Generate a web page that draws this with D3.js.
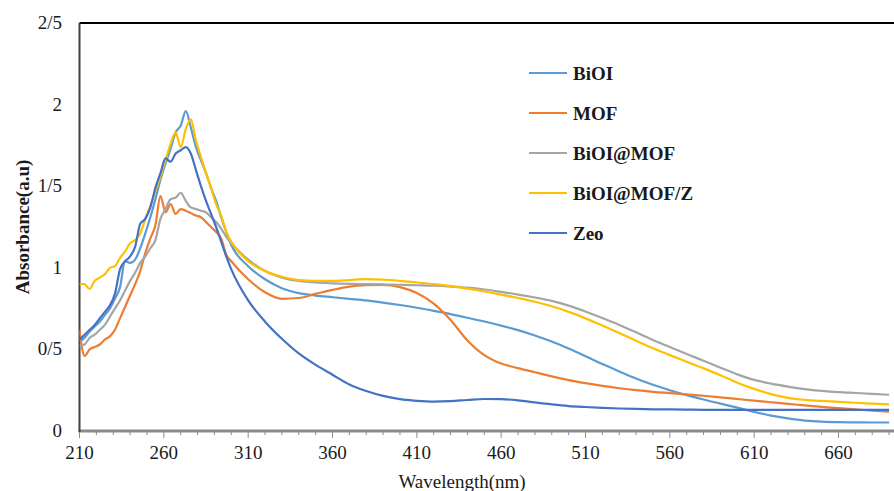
<!DOCTYPE html>
<html>
<head>
<meta charset="utf-8">
<script src="https://cdn.jsdelivr.net/npm/d3@7"></script>
<style>
  body { margin: 0; background: #fff; }
  svg { display: block; font-family: "Liberation Serif", "Times New Roman", serif; }
</style>
</head>
<body>
<svg id="absChart" width="894" height="491"></svg>
<script>
// wavelength grid (nm): fine steps over the noisy peak, then every 10 nm
const wavelengths = [
  210, 213, 216, 219, 222, 225, 228, 231, 234, 237, 240, 243, 246, 249, 252, 255,
  258, 261, 264, 267, 270, 273, 276, 279, 282, 285, 288, 291, 294, 297, 300,
  310, 320, 330, 340, 350, 360, 370, 380, 390, 400, 410, 420, 430, 440, 450,
  460, 470, 480, 490, 500, 510, 520, 530, 540, 550, 560, 570, 580, 590, 600,
  610, 620, 630, 640, 650, 660, 670, 680, 690
];

const seriesNames = ["BiOI", "MOF", "BiOI@MOF", "BiOI@MOF/Z", "Zeo"];

const biOI = [
  0.55, 0.57, 0.61, 0.64, 0.67, 0.71, 0.75, 0.81, 0.88, 1.04, 1.03, 1.05, 1.12, 1.21, 1.31, 1.42,
  1.54, 1.64, 1.73, 1.83, 1.87, 1.96, 1.86, 1.74, 1.66, 1.58, 1.49, 1.41, 1.31, 1.22, 1.14,
  1.01, 0.93, 0.875, 0.845, 0.83, 0.82, 0.81, 0.80, 0.787, 0.772, 0.755, 0.736, 0.716, 0.694, 0.671,
  0.646, 0.618, 0.585, 0.548, 0.505, 0.458, 0.41, 0.365, 0.322, 0.283, 0.25, 0.22, 0.193, 0.168, 0.143,
  0.117, 0.094, 0.077, 0.064, 0.057, 0.054, 0.053, 0.052, 0.052
];

const mof = [
  0.62, 0.46, 0.50, 0.515, 0.53, 0.56, 0.58, 0.62, 0.69, 0.76, 0.83, 0.90, 0.98, 1.09, 1.18, 1.26,
  1.44, 1.34, 1.39, 1.33, 1.36, 1.35, 1.335, 1.32, 1.31, 1.28, 1.25, 1.22, 1.18, 1.08, 1.04,
  0.93, 0.85, 0.81, 0.815, 0.84, 0.865, 0.885, 0.893, 0.895, 0.882, 0.845, 0.78, 0.68, 0.555, 0.465,
  0.413, 0.385, 0.36, 0.335, 0.312, 0.293, 0.276, 0.262, 0.25, 0.24, 0.232, 0.224, 0.216, 0.206, 0.196,
  0.186, 0.176, 0.166, 0.157, 0.148, 0.14, 0.132, 0.125, 0.118
];

const biOIMof = [
  0.52, 0.53, 0.57, 0.59, 0.62, 0.65, 0.70, 0.75, 0.80, 0.86, 0.92, 0.97, 1.03, 1.07, 1.12, 1.17,
  1.30, 1.36, 1.42, 1.43, 1.46, 1.41, 1.37, 1.36, 1.35, 1.34, 1.31, 1.28, 1.24, 1.19, 1.15,
  1.05, 0.98, 0.94, 0.92, 0.91, 0.905, 0.902, 0.90, 0.898, 0.896, 0.893, 0.89, 0.885, 0.878, 0.867,
  0.852, 0.836, 0.818, 0.797, 0.768, 0.732, 0.692, 0.65, 0.605, 0.558, 0.515, 0.472, 0.43, 0.388, 0.347,
  0.313, 0.29, 0.272, 0.257, 0.246, 0.238, 0.233, 0.228, 0.222
];

const biOIMofZ = [
  0.90, 0.90, 0.87, 0.92, 0.94, 0.96, 1.00, 1.01, 1.06, 1.10, 1.15, 1.17, 1.21, 1.30, 1.38, 1.47,
  1.56, 1.66, 1.76, 1.83, 1.74, 1.85, 1.91, 1.78, 1.68, 1.58, 1.49, 1.39, 1.32, 1.22, 1.16,
  1.04, 0.98, 0.945, 0.925, 0.92, 0.92, 0.925, 0.93, 0.928, 0.92, 0.91, 0.90, 0.888, 0.872, 0.855,
  0.836, 0.815, 0.792, 0.764, 0.73, 0.69, 0.646, 0.60, 0.553, 0.507, 0.465, 0.424, 0.384, 0.342, 0.296,
  0.258, 0.226, 0.203, 0.191, 0.184, 0.179, 0.173, 0.168, 0.163
];

const zeo = [
  0.56, 0.59, 0.62, 0.65, 0.69, 0.73, 0.77, 0.84, 0.99, 1.04, 1.07, 1.13, 1.27, 1.30, 1.37, 1.49,
  1.58, 1.67, 1.65, 1.70, 1.72, 1.74, 1.70, 1.60, 1.50, 1.41, 1.33, 1.25, 1.16, 1.07, 0.99,
  0.80, 0.67, 0.565, 0.475, 0.405, 0.345, 0.285, 0.245, 0.215, 0.195, 0.185, 0.18, 0.183, 0.19, 0.196,
  0.195, 0.188, 0.175, 0.163, 0.153, 0.147, 0.142, 0.138, 0.135, 0.133, 0.132, 0.131, 0.13, 0.13, 0.13,
  0.13, 0.13, 0.13, 0.13, 0.13, 0.129, 0.129, 0.129, 0.129
];

const xTickValues = [210, 260, 310, 360, 410, 460, 510, 560, 610, 660];
const yTickValues = [0, 0.5, 1, 1.5, 2, 2.5];
const yTickLabels = ["0", "0/5", "1", "1/5", "2", "2/5"];

const colors = ["#5B9BD5", "#ED7D31", "#A5A5A5", "#FFC000", "#4472C4"];

const svg = d3.select("#absChart");
const plot = { left: 79.5, top: 23, bottom: 431, right: 894 };

const x = d3.scaleLinear().domain([210, 660]).range([plot.left, 838.5]);
const y = d3.scaleLinear().domain([0, 2.5]).range([plot.bottom, plot.top]);

svg.append("defs").append("clipPath").attr("id", "plotClip")
  .append("rect")
  .attr("x", plot.left).attr("y", 0)
  .attr("width", plot.right - plot.left).attr("height", plot.bottom + 2);

// top border
svg.append("line")
  .attr("x1", plot.left).attr("x2", plot.right)
  .attr("y1", plot.top).attr("y2", plot.top)
  .attr("stroke", "#000").attr("stroke-width", 2.2);

// X axis: minor ticks every 10 nm, labelled ticks every 50 nm
const minorTicks = d3.range(210, 700, 10);
svg.append("g").selectAll("line")
  .data(minorTicks)
  .enter()
  .append("line")
  .attr("x1", d => x(d)).attr("x2", d => x(d))
  .attr("y1", plot.bottom)
  .attr("y2", d => xTickValues.includes(d) ? plot.bottom + 7 : plot.bottom + 4)
  .attr("stroke", "#8c8c8c").attr("stroke-width", 1);

svg.append("line")
  .attr("x1", plot.left - 1).attr("x2", plot.right)
  .attr("y1", plot.bottom).attr("y2", plot.bottom)
  .attr("stroke", "#8a8a8a").attr("stroke-width", 3);

svg.append("g").selectAll("text")
  .data(xTickValues)
  .enter()
  .append("text")
  .attr("x", d => x(d))
  .attr("y", 459)
  .attr("text-anchor", "middle")
  .attr("font-size", "19px")
  .attr("fill", "#1a1a1a")
  .text(d => d);

// Y axis
svg.append("line")
  .attr("x1", plot.left).attr("x2", plot.left)
  .attr("y1", plot.top).attr("y2", plot.bottom + 1)
  .attr("stroke", "#404040").attr("stroke-width", 2);

svg.append("g").selectAll("text")
  .data(yTickValues)
  .enter()
  .append("text")
  .attr("x", 62)
  .attr("y", d => y(d) + 6)
  .attr("text-anchor", "end")
  .attr("font-size", "19px")
  .attr("fill", "#1a1a1a")
  .text((d, i) => yTickLabels[i]);

// Axis labels
svg.append("text")
  .attr("transform", "rotate(-90)")
  .attr("x", -(plot.top + plot.bottom) / 2)
  .attr("y", 29)
  .attr("text-anchor", "middle")
  .attr("font-size", "19px")
  .attr("font-weight", "bold")
  .attr("fill", "#1a1a1a")
  .text("Absorbance(a.u)");

svg.append("text")
  .attr("x", 462)
  .attr("y", 488)
  .attr("text-anchor", "middle")
  .attr("font-size", "19px")
  .attr("fill", "#1a1a1a")
  .text("Wavelength(nm)");

// Lines
const allSeries = [biOI, mof, biOIMof, biOIMofZ, zeo];
const line = d3.line()
  .x((d, i) => x(wavelengths[i]))
  .y(d => y(d))
  .curve(d3.curveMonotoneX);

svg.append("g")
  .attr("clip-path", "url(#plotClip)")
  .selectAll("path")
  .data(allSeries)
  .enter()
  .append("path")
  .attr("d", d => line(d))
  .attr("fill", "none")
  .attr("stroke", (d, i) => colors[i])
  .attr("stroke-width", 2.2)
  .attr("stroke-linejoin", "round");

// Legend
const legend = svg.append("g");
seriesNames.forEach((name, i) => {
  const ly = 73 + i * 40;
  legend.append("line")
    .attr("x1", 529).attr("x2", 567)
    .attr("y1", ly).attr("y2", ly)
    .attr("stroke", colors[i]).attr("stroke-width", 2);
  legend.append("text")
    .attr("x", 573)
    .attr("y", ly + 6.5)
    .attr("font-size", "19px")
    .attr("font-weight", "bold")
    .attr("fill", "#1a1a1a")
    .text(name);
});
</script>
</body>
</html>
